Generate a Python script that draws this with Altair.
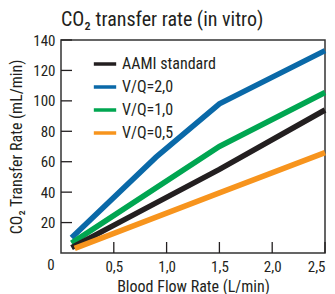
import altair as alt
import pandas as pd

# ---- data ----
series_names = ["AAMI standard", "V/Q=2,0", "V/Q=1,0", "V/Q=0,5"]
series_colors = ["#231f20", "#0a69a8", "#00a651", "#f7941d"]

aami_flow = [0.1, 1.5, 2.5]
aami_co2 = [3.5, 55, 94]
vq20_flow = [0.1, 0.9, 1.5, 2.5]
vq20_co2 = [10, 63, 98, 133]
vq10_flow = [0.1, 1.5, 2.5]
vq10_co2 = [6.5, 70, 105.5]
vq05_flow = [0.13, 1.5, 2.5]
vq05_co2 = [3, 39.5, 66]

x_ticks = [0.5, 1.0, 1.5, 2.0, 2.5]
y_ticks = [20, 40, 60, 80, 100, 120, 140]

FONT = "Liberation Sans Narrow, Roboto Condensed, Roboto, sans-serif"
W, H = 264, 213

rows = []
draw_order = {"V/Q=2,0": 0, "V/Q=1,0": 1, "AAMI standard": 2, "V/Q=0,5": 3}
for name, fx, fy in [("V/Q=2,0", vq20_flow, vq20_co2),
                     ("V/Q=1,0", vq10_flow, vq10_co2),
                     ("AAMI standard", aami_flow, aami_co2),
                     ("V/Q=0,5", vq05_flow, vq05_co2)]:
    for i, (a, b) in enumerate(zip(fx, fy)):
        rows.append({"series": name, "flow": a, "co2": b, "i": i, "o": draw_order[name]})
df = pd.DataFrame(rows)

xscale = alt.Scale(domain=[0, 2.5], nice=False)
yscale = alt.Scale(domain=[0, 140], nice=False)

fmt = "replace(format(datum.value, '.1f'), '.', ',')"

xaxis = alt.Axis(values=x_ticks, labelExpr=fmt, title="Blood Flow Rate (L/min)",
                 tickSize=0, labelPadding=6, titlePadding=4, grid=False,
                 labelOverlap=False)
yaxis = alt.Axis(values=y_ticks, title="CO₂ Transfer Rate (mL/min)",
                 tickSize=0, labelPadding=6, titlePadding=8, grid=False,
                 labelOverlap=False)

lines = alt.Chart(df).mark_line(strokeWidth=5.5, strokeCap="butt").encode(
    x=alt.X("flow:Q", scale=xscale, axis=xaxis),
    y=alt.Y("co2:Q", scale=yscale, axis=yaxis),
    color=alt.Color("series:N",
                    scale=alt.Scale(domain=series_names, range=series_colors),
                    legend=alt.Legend(title=None, orient="none", legendX=31, legendY=11,
                                      symbolType="stroke", symbolStrokeWidth=3.5,
                                      symbolSize=500, labelFontSize=16, labelFont=FONT,
                                      labelColor="#231f20", rowPadding=2, padding=0,
                                      labelOffset=4)),
    detail="o:O",
    order="i:Q",
)

xt = pd.DataFrame({"v": x_ticks})
yt = pd.DataFrame({"v": y_ticks})
xtick_marks = alt.Chart(xt).mark_rule(color="#231f20", strokeWidth=1.3).encode(
    x=alt.X("v:Q", scale=xscale, axis=xaxis), y=alt.value(H), y2=alt.value(H - 11))
ytick_marks = alt.Chart(yt).mark_rule(color="#231f20", strokeWidth=1.3).encode(
    y=alt.Y("v:Q", scale=yscale, axis=yaxis), x=alt.value(0), x2=alt.value(11))

zero = alt.Chart(pd.DataFrame({"x": [0], "y": [0], "t": ["0"]})).mark_text(
    font=FONT, fontSize=15, color="#231f20", dx=-10, dy=12).encode(
    x=alt.X("x:Q", scale=xscale, axis=xaxis), y=alt.Y("y:Q", scale=yscale, axis=yaxis),
    text="t:N")

chart = alt.layer(lines, xtick_marks, ytick_marks, zero).properties(
    width=W, height=H,
    autosize=alt.AutoSizeParams(type="none"),
    padding={"left": 53, "top": 32, "right": 2, "bottom": 45},
    title=alt.Title("CO₂ transfer rate (in vitro)", anchor="start", frame="group",
                    fontSize=20, font=FONT, fontWeight="normal", color="#231f20",
                    offset=3),
).configure_view(
    stroke="#333333", strokeWidth=1.5
).configure_axis(
    domain=False, labelFont=FONT, labelFontSize=15, labelColor="#231f20",
    titleFont=FONT, titleFontSize=16, titleFontWeight="normal", titleColor="#231f20",
    labelOverlap=False,
)

chart.save("out.html", embed_options={"renderer": "svg", "actions": False})
